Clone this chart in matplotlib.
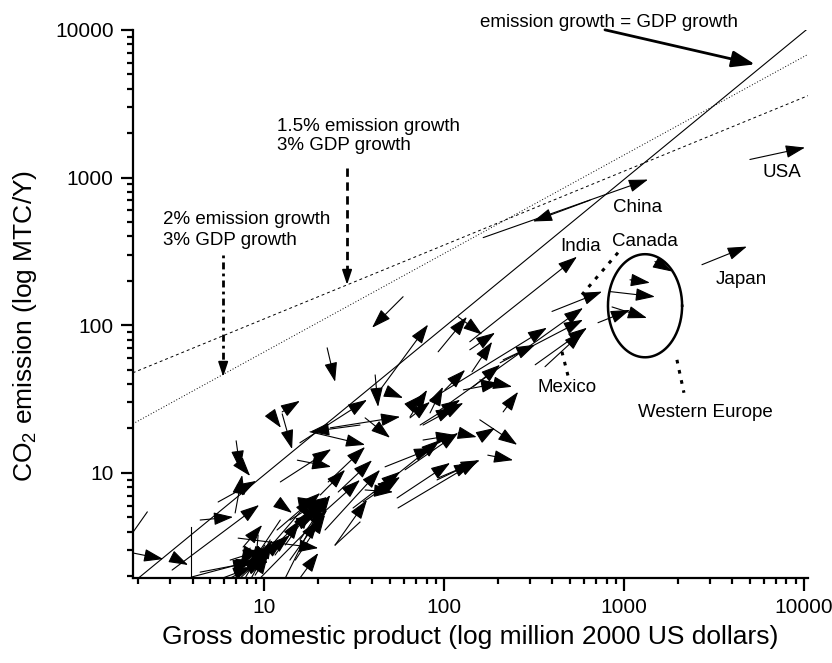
import numpy as np
import matplotlib
matplotlib.use('Agg')
import matplotlib.pyplot as plt
from matplotlib.patches import FancyArrowPatch
from matplotlib.ticker import LogLocator, NullFormatter, FixedLocator, FixedFormatter

plt.rcParams['font.family'] = ['Liberation Sans', 'DejaVu Sans']
plt.rcParams['mathtext.fontset'] = 'custom'
plt.rcParams['mathtext.rm'] = 'Liberation Sans'

# country trajectories, GDP (million 2000 USD) and CO2 (MTC/Y), tail -> head
gdp_start = [1.87, 3.08, 4.41, 5.55, 3.08, 6.90, 6.99, 7.17, 7.64, 7.17, 8.36, 10.4, 4.41, 5.48,
             3.93, 15.8, 12.0, 9.50, 8.36, 13.1, 7.36, 9.26, 10.1, 6.47, 15.8,
             12.6, 10.8, 12.6, 12.3, 15.3, 34.1, 23.3, 36.4, 18.0, 22.7, 25.8, 31.2, 35.5, 40.3,
             47.0, 54.8, 55.5, 92.7, 36.4, 15.8, 73.6, 64.7, 76.4, 120, 15.8, 15.8, 24.8,
             59.2, 22.4, 44.1, 41.4, 48.8, 92.7, 120, 143, 101, 128, 145, 64.7, 83.6, 66.4,
             95.0, 76.4, 91.4,
             139, 139, 83.6, 95.0, 205, 213, 321, 364, 398, 717, 836, 1080, 858, 1486,
             158, 213, 158, 158, 175, 165, 648, 5010, 2712,
             19.2, 21.8, 20.5, 50.1, 60.7, 13.9,
             7.84, 8.91, 6.47, 9.75, 10.8, 12.3, 9.50, 11.5, 13.1, 14.9, 11.8, 13.9, 8.36]
co2_start = [2.87, 2.70, 4.80, 6.36, 2.20, 5.36, 16.5, 11.9, 3.15, 3.62, 1.88, 2.87, 2.13, 1.88,
             1.97, 1.94, 6.26, 1.94, 2.20, 1.94, 1.94, 3.80, 3.25, 2.57, 3.52,
             25.9, 25.5, 25.1, 8.69, 12.2, 21.1, 20.2, 23.6, 19.0, 8.69, 7.43, 5.79, 6.36, 7.32,
             11.0, 6.77, 5.79, 9.25, 7.67, 16.0, 21.1, 23.6, 16.7, 18.7, 6.26, 4.58, 3.25,
             156, 70.3, 36.5, 46.1, 35.4, 66.1, 114, 48.4, 36.5, 36.5, 38.3, 24.0, 25.5, 28.9,
             24.7, 21.1, 8.97,
             77.3, 68.2, 31.3, 26.7, 55.7, 58.3, 54.0, 52.4, 124, 104, 169, 203, 133, 270,
             42.7, 25.9, 22.9, 17.5, 13.2, 392, 703, 1325, 257,
             4.80, 4.11, 7.09, 8.97, 10.5, 2.57,
             1.94, 2.03, 1.94, 2.20, 3.52, 4.80, 2.57, 2.78, 3.25, 2.57, 4.11, 4.80, 3.10]
gdp_end = [2.75, 3.78, 6.72, 9.03, 9.38, 7.55, 7.36, 8.36, 9.75, 20.0, 11.1, 12.8, 8.58, 8.58,
           8.91, 20.0, 14.3, 22.4, 18.7, 21.3, 20.5, 8.91, 8.58, 9.75, 23.3,
           15.8, 12.4, 14.3, 23.6, 23.6, 18.0, 57.0, 50.1, 36.4, 36.4, 39.8, 57.0, 57.0, 54.8,
           86.9, 108, 155, 158, 52.1, 37.3, 123, 83.6, 115, 152, 19.7, 19.2, 37.3,
           39.8, 24.8, 81.5, 43.0, 59.2, 134, 163, 185, 131, 205, 205, 80.5, 98.6, 75.5,
           115, 128, 145,
           548, 192, 373, 592, 592, 321, 623, 592, 755, 1080, 1486, 1394, 1342, 1848,
           239, 258, 255, 192, 242, 1360, 312, 10140, 4820,
           34.1, 44.1, 28.2, 95.0, 120, 20.0,
           9.75, 10.5, 10.1, 9.26, 8.91, 8.36, 13.9, 15.8, 18.0, 21.8, 20.5, 22.4, 7.36]
co2_end = [2.61, 2.38, 5.03, 8.83, 6.07, 9.69, 10.5, 9.54, 4.44, 3.10, 3.52, 3.52, 2.49, 2.31,
           2.57, 2.87, 5.36, 5.61, 6.87, 6.36, 6.26, 2.20, 2.38, 3.01, 7.09,
           30.8, 20.2, 14.5, 14.5, 11.0, 19.0, 24.0, 17.3, 15.5, 15.0, 12.2, 10.2, 9.40, 8.97,
           14.8, 11.7, 12.2, 12.2, 7.43, 31.3, 31.3, 30.3, 18.1, 17.5, 6.56, 5.19, 6.56,
           96.2, 41.4, 101, 28.0, 32.2, 114, 86.3, 77.3, 49.9, 40.7, 54.0, 36.5, 38.3, 33.8,
           27.6, 29.8, 11.7,
           291, 89.0, 96.2, 131, 109, 73.8, 96.2, 90.4, 169, 127, 156, 194, 112, 231,
           38.3, 35.4, 15.5, 20.2, 12.2, 969, 504, 1596, 341,
           8.97, 10.5, 10.5, 16.7, 18.7, 4.80,
           3.10, 2.78, 2.57, 3.25, 2.27, 2.38, 3.80, 4.80, 5.61, 5.19, 7.32, 6.87, 2.38]

# short segments without heads
seg_gdp = [(3.93, 3.93), (2.24, 1.87), (24.8, 34.1)]
seg_co2 = [(4.31, 1.97), (5.44, 3.98), (3.25, 4.65)]

labels = ['China', 'India', 'Canada', 'USA', 'Japan', 'Mexico', 'Western Europe']
label_gdp = [869, 441, 858, 5920, 3245, 329, 1196]
label_co2 = [626, 341, 368, 1082, 203, 37.7, 25.5]

fig = plt.figure(figsize=(8.32, 6.63), dpi=100)
ax = fig.add_axes([0.160, 0.128, 0.811, 0.827])
ax.set_xscale('log')
ax.set_yscale('log')
ax.set_xlim(1.87, 10520)
ax.set_ylim(1.94, 10000)

# reference growth paths
g = np.logspace(0, 4.2, 300)
ax.plot(g, 0.97 * g, color='black', lw=0.8)
ax.plot(g, 34.9 * g ** 0.5, color='black', lw=0.7, dashes=(3, 3))
ax.plot(g, 14.2 * g ** (2 / 3), color='black', lw=0.7, dashes=(1, 2))

for x0, y0, x1, y1 in zip(gdp_start, co2_start, gdp_end, co2_end):
    ax.add_patch(FancyArrowPatch((x0, y0), (x1, y1),
                                 arrowstyle='-|>,head_length=0.6,head_width=0.2',
                                 mutation_scale=20, lw=0.8, color='black',
                                 shrinkA=0, shrinkB=0))
for xs, ys in zip(seg_gdp, seg_co2):
    ax.plot(xs, ys, color='black', lw=0.8)

for t, x, y in zip(labels, label_gdp, label_co2):
    ax.text(x, y, t, fontsize=13.5, ha='left', va='center')

# Western Europe ellipse
t = np.linspace(0, 2 * np.pi, 300)
ax.plot(10 ** (3.117 + 0.206 * np.cos(t)), 10 ** (2.132 + 0.349 * np.sin(t)),
        color='black', lw=1.8)

# leaders
ax.plot([926, 584], [310, 161], color='black', lw=2.2, dashes=(1.2, 2.2))
ax.plot([452, 495], [66.1, 42.7], color='black', lw=2.2, dashes=(1.2, 2.2))
ax.plot([1969, 2154], [58.3, 34.9], color='black', lw=2.2, dashes=(1.2, 2.2))

# annotations for reference lines
ax.text(158, 11250, 'emission growth = GDP growth', fontsize=13.5, ha='left', va='center')
ax.add_patch(FancyArrowPatch((784, 10000), (5345, 5840),
                             arrowstyle='-|>,head_length=0.7,head_width=0.25',
                             mutation_scale=20, lw=2.0, color='black',
                             shrinkA=0, shrinkB=0, clip_on=False))

ax.text(11.8, 1897, '1.5% emission growth\n3% GDP growth', fontsize=13.5,
        ha='left', va='center', linespacing=1.15)
ax.plot([28.9, 28.9], [1169, 215], color='black', lw=2.0, dashes=(3, 2))
ax.add_patch(FancyArrowPatch((28.9, 230), (28.9, 188),
                             arrowstyle='-|>,head_length=0.6,head_width=0.2',
                             mutation_scale=15, lw=1.2, color='black', shrinkA=0, shrinkB=0))

ax.text(2.75, 441, '2% emission growth\n3% GDP growth', fontsize=13.5,
        ha='left', va='center', linespacing=1.25)
ax.plot([5.92, 5.92], [301, 52], color='black', lw=2.0, dashes=(1, 1.5, 2.5, 1.5))
ax.add_patch(FancyArrowPatch((5.92, 56), (5.92, 44.8),
                             arrowstyle='-|>,head_length=0.6,head_width=0.2',
                             mutation_scale=15, lw=1.2, color='black', shrinkA=0, shrinkB=0))

# axes styling
for s in ['top', 'right']:
    ax.spines[s].set_visible(False)
for s in ['left', 'bottom']:
    ax.spines[s].set_linewidth(1.6)

ticks = [10, 100, 1000, 10000]
tick_labels = ['10', '100', '1000', '10000']
for axis in (ax.xaxis, ax.yaxis):
    axis.set_major_locator(FixedLocator(ticks))
    axis.set_major_formatter(FixedFormatter(tick_labels))
    axis.set_minor_locator(LogLocator(base=10, subs=np.arange(2, 10)))
    axis.set_minor_formatter(NullFormatter())
ax.tick_params(which='major', direction='out', length=9, width=1.6, labelsize=15, pad=5)
ax.tick_params(which='minor', direction='out', length=4, width=1.6)

ax.set_xlabel('Gross domestic product (log million 2000 US dollars)', fontsize=19)
ax.set_ylabel(r'CO$_\mathregular{2}$ emission (log MTC/Y)', fontsize=19)
ax.xaxis.set_label_coords(0.5, -0.085)
ax.yaxis.set_label_coords(-0.14, 0.46)

fig.savefig('out.png', dpi=100)
